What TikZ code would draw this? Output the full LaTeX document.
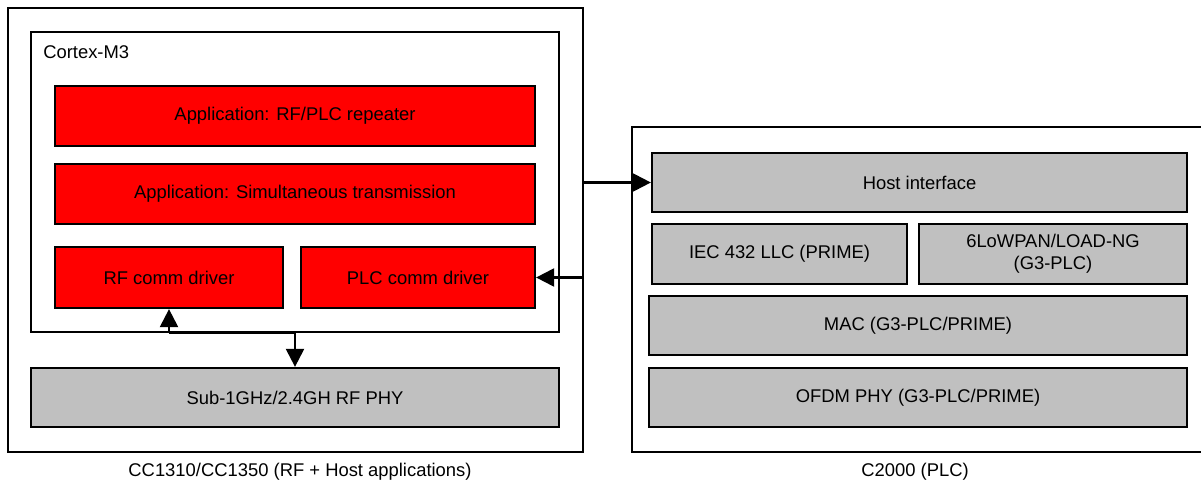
\documentclass[tikz,border=0pt]{standalone}
\usepackage{fontspec}
\setmainfont{Liberation Sans}
\usepackage{tikz}
\usetikzlibrary{arrows.meta}
\definecolor{appred}{RGB}{255,0,0}
\definecolor{stackgray}{RGB}{192,192,192}
\tikzstyle{chip} = [rectangle, draw=black, line width=1.7pt, fill=white]
\tikzstyle{block} = [rectangle, minimum height=45pt, text centered, draw=black, line width=1.7pt, fill=appred]
\tikzstyle{block2} = [rectangle, minimum height=44.25pt, text centered, align=center, draw=black, line width=1.7pt, fill=stackgray]
\tikzstyle{arrow} = [line width=1.7pt, -{Triangle[length=13.5pt, width=13.5pt]}]

\begin{document}
\begin{tikzpicture}[x=0.75pt, y=-0.75pt, inner sep=0pt, font=\fontsize{13.8}{16.5}\selectfont]
        \useasboundingbox (0,0) rectangle (1201,491);
        % containers
        \node (cc13) [chip, minimum width=431.25pt, minimum height=333pt] at (295.5,230) {};
        \node (cortex) [chip, minimum width=396pt, minimum height=225pt] at (295,182) {};
        \node (m3) [anchor=west] at (43,52) {Cortex-M3};
        \node (c2000) [chip, minimum width=435pt, minimum height=243.75pt] at (922,289.5) {};

        % CC1310/CC1350 side
        \node (rep) [block, minimum width=360pt] at (295,116) {Application: RF/PLC repeater};
        \node (sim) [block, minimum width=360pt] at (295,194) {Application: Simultaneous transmission};
        \node (rf) [block, minimum width=171pt, minimum height=45.75pt] at (169,277.5) {RF comm driver};
        \node (plc) [block, minimum width=175.5pt, minimum height=45.75pt] at (418,277.5) {PLC comm driver};
        \node (phy) [block2, minimum width=396pt] at (295,397.5) {Sub-1GHz/2.4GH RF PHY};

        % C2000 side
        \node (host) [block2, minimum width=401.25pt] at (919.5,182.5) {Host interface};
        \node (iec) [block2, minimum width=191.25pt, minimum height=45pt] at (779.5,254) {IEC 432 LLC (PRIME)};
        \node (lowpan) [block2, minimum width=201pt, minimum height=45pt] at (1053,254) {6LoWPAN/LOAD-NG\\(G3-PLC)};
        \node (mac) [block2, minimum width=403.5pt] at (918,325.5) {MAC (G3-PLC/PRIME)};
        \node (ofdm) [block2, minimum width=403.5pt] at (918,397.5) {OFDM PHY (G3-PLC/PRIME)};

        % captions
        \node (cap1) at (300,472) {CC1310/CC1350 (RF + Host applications)};
        \node (cap2) at (915,472) {C2000 (PLC)};

        \draw [arrow] (host.west -| cc13.east) -- (host.west);
        \draw [arrow] (plc.east -| cc13.east) -- (plc.east);
        \draw [arrow] (rf.south |- cortex.south) -- (rf.south);
        \draw [arrow] (rf.south |- cortex.south) -- (phy.north |- cortex.south) -- (phy.north);
\end{tikzpicture}
\end{document}
